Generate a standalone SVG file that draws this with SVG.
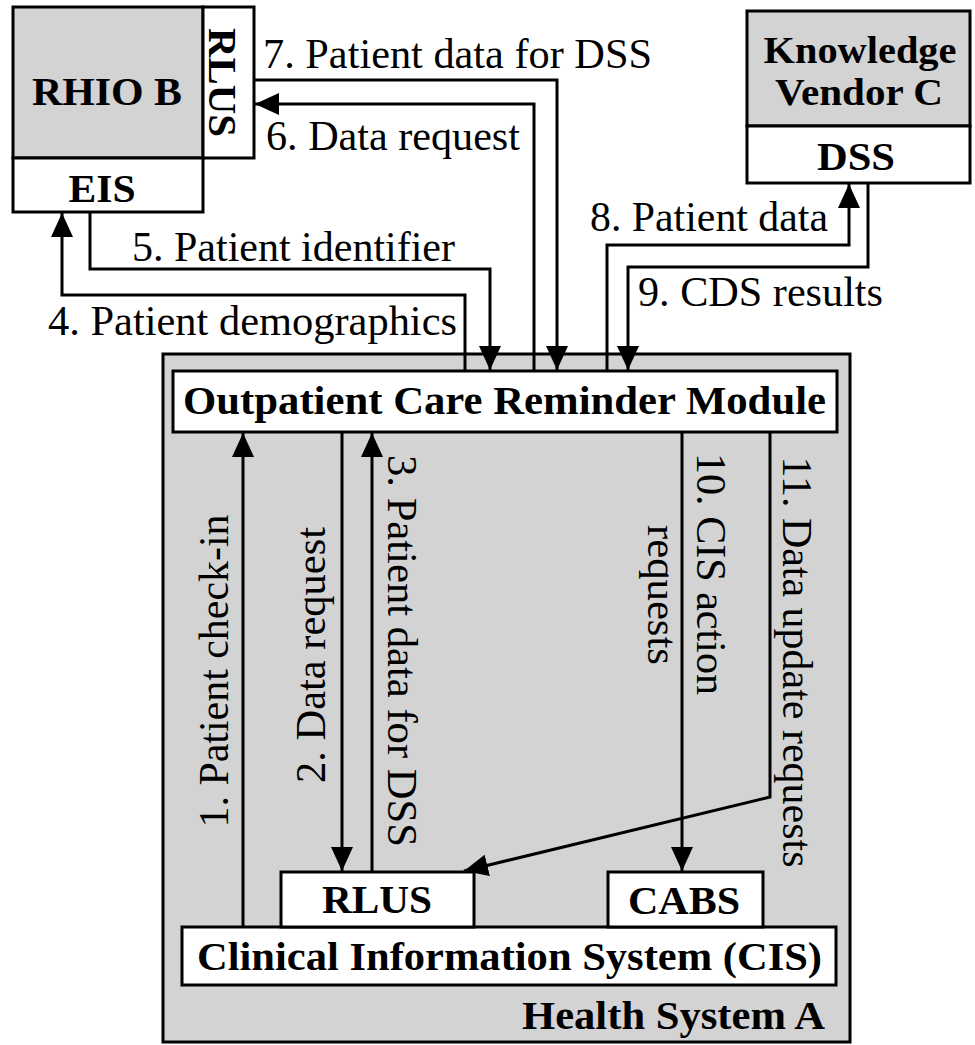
<svg xmlns="http://www.w3.org/2000/svg" width="975" height="1045" viewBox="0 0 975 1045">
<style>
.box{stroke:#000;stroke-width:3}
.gray{fill:#d3d3d3}
.white{fill:#fff}
.bt{font-weight:bold;font-size:41px;fill:#000}
.bs{font-weight:bold;font-size:38px;fill:#000}
.lt{font-size:42px;fill:#000}
.ln{fill:none;stroke:#000;stroke-width:3}
</style>
<defs>
<marker id="ah" markerUnits="userSpaceOnUse" markerWidth="24" markerHeight="22" refX="24" refY="11" orient="auto">
<path d="M0,0 L24,11 L0,22 z" fill="#000"/>
</marker>
</defs>
<rect width="975" height="1045" fill="#fff"/>
<g font-family="'Liberation Serif', 'Times New Roman', Times, serif">
<g id="health-system-a">
<rect class="box gray" x="163" y="354" width="687" height="688"/>
<text class="bt" x="522" y="1029" textLength="303" lengthAdjust="spacingAndGlyphs">Health System A</text>
</g>
<g id="rhio-b">
<rect class="box gray" x="13" y="7" width="190" height="151"/>
<text class="bt" x="107" y="105" text-anchor="middle" textLength="150" lengthAdjust="spacingAndGlyphs">RHIO B</text>
</g>
<g id="rhio-rlus">
<rect class="box white" x="203" y="7" width="51" height="151"/>
<text class="bt" transform="translate(209,82.5) rotate(90)" text-anchor="middle" textLength="109" lengthAdjust="spacingAndGlyphs">RLUS</text>
</g>
<g id="eis">
<rect class="box white" x="13" y="158" width="190" height="54"/>
<text class="bt" x="102" y="202" text-anchor="middle" textLength="67" lengthAdjust="spacingAndGlyphs">EIS</text>
</g>
<g id="knowledge-vendor-c">
<rect class="box gray" x="747" y="11" width="223" height="115"/>
<text class="bs" x="860" y="63" text-anchor="middle" textLength="193" lengthAdjust="spacingAndGlyphs">Knowledge</text>
<text class="bs" x="859" y="105" text-anchor="middle" textLength="168" lengthAdjust="spacingAndGlyphs">Vendor C</text>
</g>
<g id="dss">
<rect class="box white" x="747" y="126" width="223" height="57"/>
<text class="bt" x="856" y="170" text-anchor="middle" textLength="78" lengthAdjust="spacingAndGlyphs">DSS</text>
</g>
<g id="outpatient-module">
<rect class="box white" x="173" y="371" width="664" height="61"/>
<text class="bt" x="504.5" y="414" text-anchor="middle" textLength="643" lengthAdjust="spacingAndGlyphs">Outpatient Care Reminder Module</text>
</g>
<g id="cis">
<rect class="box white" x="182" y="927" width="654" height="58"/>
<text class="bt" x="509.5" y="970" text-anchor="middle" textLength="625" lengthAdjust="spacingAndGlyphs">Clinical Information System (CIS)</text>
</g>
<g id="cis-rlus">
<rect class="box white" x="281" y="872" width="193" height="55"/>
<text class="bt" x="377" y="913" text-anchor="middle" textLength="110" lengthAdjust="spacingAndGlyphs">RLUS</text>
</g>
<g id="cabs">
<rect class="box white" x="608" y="872" width="155" height="55"/>
<text class="bt" x="684" y="914" text-anchor="middle" textLength="112" lengthAdjust="spacingAndGlyphs">CABS</text>
</g>
<g id="connectors">
<path class="ln" d="M243,927 L243,433" marker-end="url(#ah)"/>
<path class="ln" d="M342,433 L342,871" marker-end="url(#ah)"/>
<path class="ln" d="M372,871 L372,433" marker-end="url(#ah)"/>
<path class="ln" d="M465,371 L465,295 L62,295 L62,213" marker-end="url(#ah)"/>
<path class="ln" d="M90,212 L90,269 L490,269 L490,370" marker-end="url(#ah)"/>
<path class="ln" d="M534,371 L534,104 L255,104" marker-end="url(#ah)"/>
<path class="ln" d="M254,80 L557,80 L557,370" marker-end="url(#ah)"/>
<path class="ln" d="M607,371 L607,245 L849,245 L849,184" marker-end="url(#ah)"/>
<path class="ln" d="M868,183 L868,267 L628,267 L628,370" marker-end="url(#ah)"/>
<path class="ln" d="M682,433 L682,871" marker-end="url(#ah)"/>
<path class="ln" d="M770,433 L770,797 L464,871" marker-end="url(#ah)"/>
</g>
<g id="connector-labels">
<text class="lt" x="263" y="68" textLength="389" lengthAdjust="spacingAndGlyphs">7. Patient data for DSS</text>
<text class="lt" x="266" y="150" textLength="254" lengthAdjust="spacingAndGlyphs">6. Data request</text>
<text class="lt" x="132" y="261" textLength="323" lengthAdjust="spacingAndGlyphs">5. Patient identifier</text>
<text class="lt" x="48" y="335" textLength="409" lengthAdjust="spacingAndGlyphs">4. Patient demographics</text>
<text class="lt" x="590" y="231" textLength="238" lengthAdjust="spacingAndGlyphs">8. Patient data</text>
<text class="lt" x="638" y="306" textLength="245" lengthAdjust="spacingAndGlyphs">9. CDS results</text>
<text class="lt" transform="translate(228,671) rotate(-90)" text-anchor="middle" textLength="313" lengthAdjust="spacingAndGlyphs">1. Patient check-in</text>
<text class="lt" transform="translate(325,655) rotate(-90)" text-anchor="middle" textLength="256" lengthAdjust="spacingAndGlyphs">2. Data request</text>
<text class="lt" transform="translate(388,651) rotate(90)" text-anchor="middle" textLength="392" lengthAdjust="spacingAndGlyphs">3. Patient data for DSS</text>
<text class="lt" transform="translate(697,574) rotate(90)" text-anchor="middle" textLength="242" lengthAdjust="spacingAndGlyphs">10. CIS action</text>
<text class="lt" transform="translate(648,595) rotate(90)" text-anchor="middle" textLength="140" lengthAdjust="spacingAndGlyphs">requests</text>
<text class="lt" transform="translate(783,662) rotate(90)" text-anchor="middle" textLength="411" lengthAdjust="spacingAndGlyphs">11. Data update requests</text>
</g>
</g>
</svg>
